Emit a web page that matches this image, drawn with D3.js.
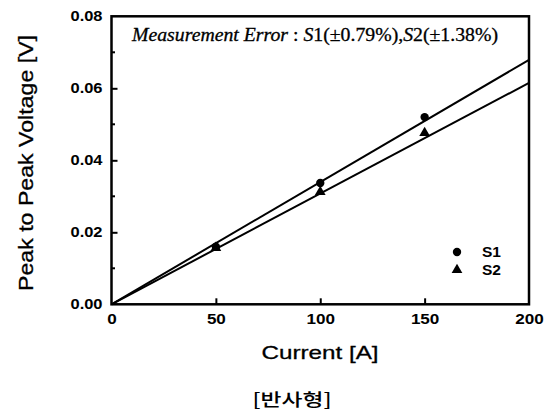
<!DOCTYPE html>
<html>
<head>
<meta charset="utf-8">
<script src="https://cdn.jsdelivr.net/npm/d3@7"></script>
<style>
  body { margin: 0; background: #fff; }
  text { fill: #000; }
</style>
</head>
<body>
<svg id="chart" width="549" height="417"></svg>
<script>
// measured points
const currents = [50, 100, 150];
const s1Values = [0.0160, 0.0337, 0.0520];
const s2Values = [0.0157, 0.0312, 0.0476];

// linear fit lines (start and end)
const fitX = [0, 200];
const s1Fit = [0, 0.0679];
const s2Fit = [0, 0.0615];

const xTicks = [0, 50, 100, 150, 200];
const yTicks = [0.00, 0.02, 0.04, 0.06, 0.08];
const yMinor = [0.01, 0.03, 0.05, 0.07];

const svg = d3.select('#chart');
const plotL = 111.5, plotR = 529, plotT = 16.3, plotB = 304.3;

const x = d3.scaleLinear().domain([0, 200]).range([plotL, plotR]);
const y = d3.scaleLinear().domain([0, 0.08]).range([plotB, plotT]);

// axes with inward ticks
const xAxis = svg.append('g').attr('transform', `translate(0,${plotB})`)
  .call(d3.axisBottom(x).tickValues(xTicks).tickSizeInner(-6).tickSizeOuter(0).tickPadding(10).tickFormat(d3.format('d')));
xAxis.select('.domain').remove();
xAxis.selectAll('line').attr('stroke-width', 2).filter(d => d === 0 || d === 200).remove();
xAxis.selectAll('text')
  .attr('font-family', 'Liberation Sans, Arial, sans-serif')
  .attr('font-weight', 'bold').attr('font-size', 14)
  .attr('textLength', d => String(d).length * 9.5).attr('lengthAdjust', 'spacingAndGlyphs');

const yAxis = svg.append('g').attr('transform', `translate(${plotL},0)`)
  .call(d3.axisLeft(y).tickValues(yTicks).tickSizeInner(-6).tickSizeOuter(0).tickPadding(9).tickFormat(d3.format('.2f')));
yAxis.select('.domain').remove();
yAxis.selectAll('line').attr('stroke-width', 2).filter(d => d === 0 || d === 0.08).remove();
yAxis.selectAll('text')
  .attr('font-family', 'Liberation Sans, Arial, sans-serif')
  .attr('font-weight', 'bold').attr('font-size', 14)
  .attr('textLength', 32).attr('lengthAdjust', 'spacingAndGlyphs');

svg.append('g').selectAll('line').data(yMinor).join('line')
  .attr('x1', plotL).attr('x2', plotL + 3.5)
  .attr('y1', d => y(d)).attr('y2', d => y(d))
  .attr('stroke', '#000').attr('stroke-width', 2);

// frame
svg.append('rect')
  .attr('x', plotL).attr('y', plotT)
  .attr('width', plotR - plotL).attr('height', plotB - plotT)
  .attr('fill', 'none').attr('stroke', '#000').attr('stroke-width', 2.5);

// fit lines
const line = d3.line().x(d => x(d[0])).y(d => y(d[1]));
[s1Fit, s2Fit].forEach(vals => {
  svg.append('path')
    .datum(fitX.map((c, i) => [c, vals[i]]))
    .attr('d', line)
    .attr('fill', 'none').attr('stroke', '#000').attr('stroke-width', 2);
});

// markers
const circle = d3.symbol().type(d3.symbolCircle).size(55);
const tri = d3.symbol().type(d3.symbolTriangle).size(50);
svg.append('g').selectAll('path').data(currents).join('path')
  .attr('d', circle)
  .attr('transform', (d, i) => `translate(${x(d)},${y(s1Values[i])})`);
svg.append('g').selectAll('path').data(currents).join('path')
  .attr('d', tri)
  .attr('transform', (d, i) => `translate(${x(d)},${y(s2Values[i])})`);

// legend
const legend = svg.append('g').attr('transform', 'translate(457,252)');
legend.append('path').attr('d', circle);
legend.append('path').attr('d', tri).attr('transform', 'translate(0,18)');
legend.selectAll('text').data(['S1', 'S2']).join('text')
  .attr('x', 25).attr('y', (d, i) => i * 18 + 5)
  .attr('font-family', 'Liberation Sans, Arial, sans-serif')
  .attr('font-weight', 'bold').attr('font-size', 14)
  .attr('textLength', 19).attr('lengthAdjust', 'spacingAndGlyphs')
  .text(d => d);

// annotation
const note = svg.append('text')
  .attr('x', 132).attr('y', 41)
  .attr('font-family', 'Liberation Serif, Times New Roman, serif')
  .attr('font-size', 19)
  .attr('stroke', '#000').attr('stroke-width', 0.3)
  .attr('textLength', 366).attr('lengthAdjust', 'spacingAndGlyphs');
note.append('tspan').attr('font-style', 'italic').text('Measurement Error');
note.append('tspan').text(' : ');
note.append('tspan').attr('font-style', 'italic').text('S');
note.append('tspan').text('1(±0.79%),');
note.append('tspan').attr('font-style', 'italic').text('S');
note.append('tspan').text('2(±1.38%)');

// axis titles
svg.append('text')
  .attr('x', 320).attr('y', 359)
  .attr('text-anchor', 'middle')
  .attr('font-family', 'Liberation Sans, Arial, sans-serif')
  .attr('font-size', 19)
  .attr('stroke', '#000').attr('stroke-width', 0.3)
  .attr('textLength', 117).attr('lengthAdjust', 'spacingAndGlyphs')
  .text('Current [A]');

svg.append('text')
  .attr('transform', 'translate(33,163) rotate(-90)')
  .attr('text-anchor', 'middle')
  .attr('font-family', 'Liberation Sans, Arial, sans-serif')
  .attr('font-size', 20)
  .attr('stroke', '#000').attr('stroke-width', 0.3)
  .attr('textLength', 256).attr('lengthAdjust', 'spacingAndGlyphs')
  .text('Peak to Peak Voltage [V]');

svg.append('text')
  .attr('x', 292).attr('y', 406)
  .attr('text-anchor', 'middle')
  .attr('font-family', 'Noto Sans CJK KR, sans-serif')
  .attr('font-size', 17).attr('font-weight', 500)
  .attr('textLength', 79).attr('lengthAdjust', 'spacingAndGlyphs')
  .text('[반사형]');
</script>
</body>
</html>
